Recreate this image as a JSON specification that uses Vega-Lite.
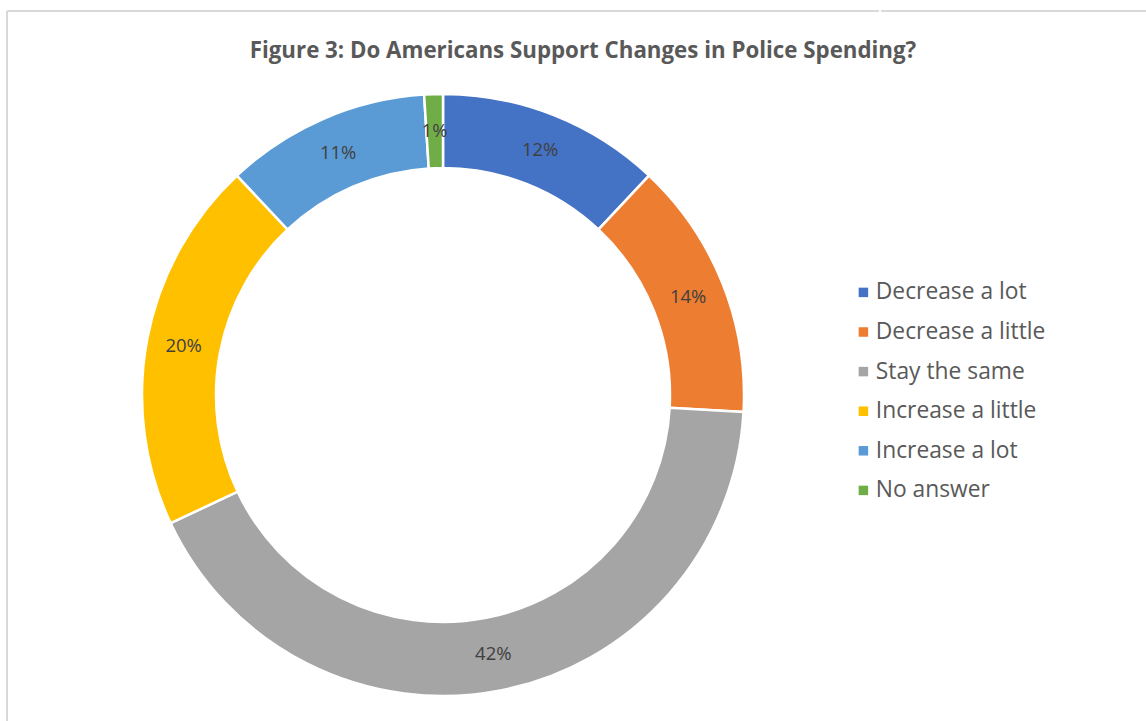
{
  "$schema": "https://vega.github.io/schema/vega-lite/v6.json",
  "padding": {"left": 6, "top": 10, "right": 0, "bottom": 0},
  "title": {
    "text": "Figure 3: Do Americans Support Changes in Police Spending?",
    "font": "Open Sans",
    "fontSize": 22.3,
    "fontWeight": "bold",
    "color": "#595959",
    "anchor": "middle",
    "baseline": "middle",
    "offset": 0,
    "dy": 63
  },
  "config": {
    "view": {"stroke": "#d9d9d9", "strokeWidth": 2},
    "concat": {"spacing": 0}
  },
  "hconcat": [
    {
      "width": 872,
      "height": 768,
      "view": {"stroke": "#d9d9d9", "strokeWidth": 2, "strokeDash": [872, 1640, 768, 0]},
      "data": {
        "values": [
          {"category": "Decrease a lot", "share": 0.12, "order": 1},
          {"category": "Decrease a little", "share": 0.139, "order": 2},
          {"category": "Stay the same", "share": 0.421, "order": 3},
          {"category": "Increase a little", "share": 0.2, "order": 4},
          {"category": "Increase a lot", "share": 0.11, "order": 5},
          {"category": "No answer", "share": 0.01, "order": 6}
        ]
      },
      "layer": [
        {
          "mark": {"type": "arc", "outerRadius": 301, "innerRadius": 227, "stroke": "white", "strokeWidth": 2.5},
          "encoding": {
            "theta": {"field": "share", "type": "quantitative", "stack": true},
            "order": {"field": "order", "type": "quantitative"},
            "color": {
              "field": "category",
              "type": "nominal",
              "scale": {
                "domain": ["Decrease a lot", "Decrease a little", "Stay the same", "Increase a little", "Increase a lot", "No answer"],
                "range": ["#4472C4", "#ED7D31", "#A5A5A5", "#FFC000", "#5B9BD5", "#70AD47"]
              },
              "legend": {
                "title": null,
                "orient": "none",
                "legendX": 845,
                "legendY": 270,
                "labelFont": "Open Sans",
                "labelFontSize": 22.8,
                "labelColor": "#595959",
                "labelLimit": 400,
                "symbolType": "square",
                "symbolSize": 90,
                "symbolStrokeWidth": 0,
                "rowPadding": 15.6,
                "labelOffset": 1
              }
            }
          }
        },
        {
          "mark": {"type": "text", "radius": 264, "font": "Open Sans", "fontSize": 18.5, "color": "#404040"},
          "encoding": {
            "theta": {"field": "share", "type": "quantitative", "stack": true},
            "order": {"field": "order", "type": "quantitative"},
            "detail": {"field": "category", "type": "nominal"},
            "text": {"field": "share", "type": "quantitative", "format": ".0%"}
          }
        }
      ]
    },
    {
      "width": 278,
      "height": 768,
      "view": {"stroke": "#d9d9d9", "strokeWidth": 2, "strokeDash": [278, 3000]},
      "data": {"values": []},
      "mark": "point"
    }
  ]
}
